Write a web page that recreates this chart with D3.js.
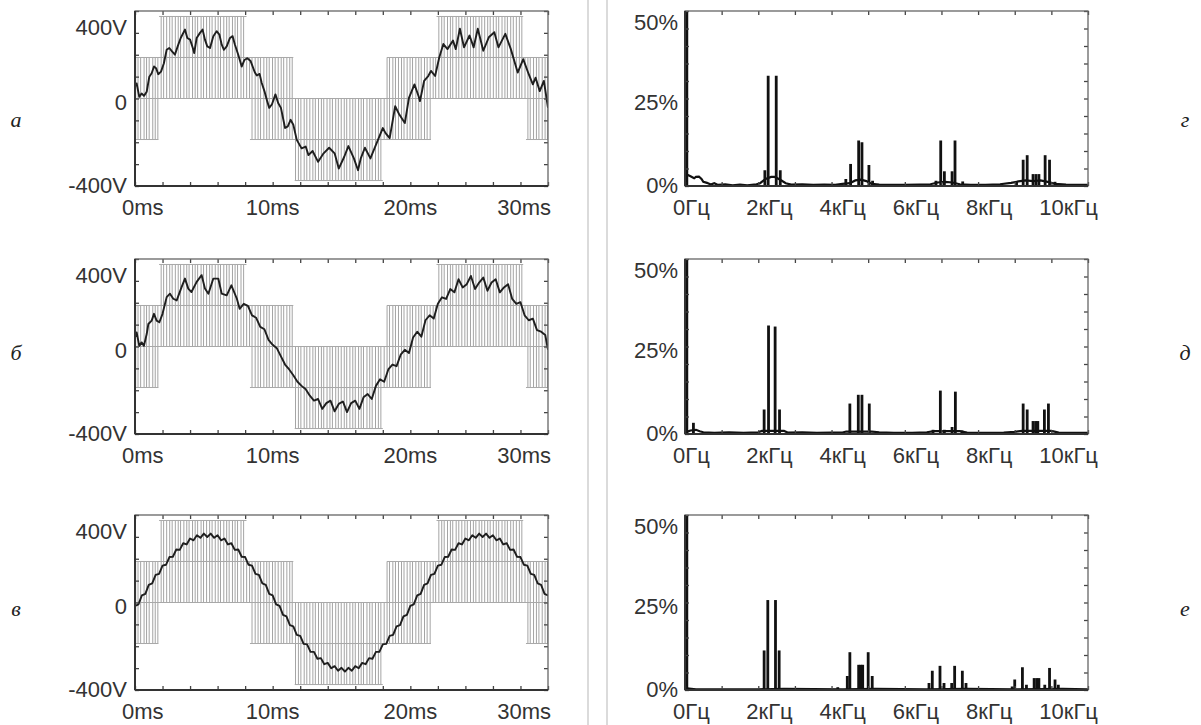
<!DOCTYPE html>
<html>
<head>
<meta charset="utf-8">
<script src="https://cdn.jsdelivr.net/npm/d3@7"></script>
<style>
  body { margin: 0; background: #fff; }
  text { font-family: "Liberation Sans", Arial, sans-serif; fill: #333; }
  .letter { font-family: "Liberation Serif", "Times New Roman", serif; font-style: italic; fill: #222; }
</style>
</head>
<body>
<svg id="chart" width="1201" height="725"></svg>
<script>
// ---- data ----
var timeTicks = [0, 10, 20, 30];
var timeLabels = ["0ms", "10ms", "20ms", "30ms"];
var voltTicks = [400, 0, -400];
var voltLabels = ["400V", "0", "-400V"];
var freqTicks = [0, 2, 4, 6, 8, 10];
var freqLabels = ["0Гц", "2кГц", "4кГц", "6кГц", "8кГц", "10кГц"];
var pctTicks = [50, 25, 0];
var pctLabels = ["50%", "25%", "0%"];
var leftLetters = ["а", "б", "в"];
var rightLetters = ["г", "д", "е"];

// PWM bands: [t start ms, t end ms, low V, high V]
var pwmBands = [
  [0, 1.7, -250, 0],
  [0, 11.5, 0, 250],
  [1.75, 8.1, 250, 500],
  [8.35, 21.5, -250, 0],
  [11.6, 18.0, -500, -250],
  [18.3, 30, 0, 250],
  [21.9, 28.2, 250, 500],
  [28.4, 30, -250, 0]
];
// switching instants, ms
var pwmEdges = [0.05,0.22,0.41,0.66,0.84,1.03,1.29,1.47,1.66,1.9,2.08,2.3,2.52,2.7,2.93,3.14,3.31,3.55,3.76,3.93,
  4.18,4.37,4.55,4.8,4.98,5.2,5.42,5.6,5.83,6.04,6.21,6.45,6.66,6.84,7.08,7.27,7.45,7.7,7.89,8.11,8.32,8.5,8.73,
  8.94,9.12,9.36,9.57,9.75,9.99,10.18,10.4,10.62,10.8,11.03,11.24,11.42,11.66,11.87,12.05,12.29,12.48,12.7,12.92,
  13.1,13.33,13.54,13.71,13.95,14.16,14.34,14.58,14.77,14.98,15.2,15.38,15.61,15.82,16.0,16.24,16.43,16.6,16.85,
  17.05,17.23,17.47,17.68,17.86,18.1,18.31,18.49,18.73,18.92,19.14,19.36,19.54,19.77,19.98,20.16,20.4,20.61,20.79,
  21.03,21.22,21.44,21.66,21.84,22.07,22.28,22.46,22.7,22.91,23.08,23.33,23.52,23.74,23.96,24.14,24.37,24.58,24.76,
  25.0,25.19,25.4,25.62,25.8,26.03,26.24,26.42,26.66,26.87,27.05,27.29,27.48,27.7,27.92,28.1,28.33,28.54,28.71,
  28.95,29.16,29.34,29.58,29.79,29.96];

// filtered output voltage, [ms, V]
var waveA = [[0,72],[0.12,92],[0.31,10],[0.48,31],[0.65,16],[0.85,41],[1.04,133],[1.21,154],[1.38,195],[1.53,185],
  [1.69,148],[1.89,164],[2.1,215],[2.3,297],[2.49,308],[2.69,287],[2.9,267],[3.1,318],[3.32,369],[3.63,420],[3.8,369],
  [4.0,359],[4.2,308],[4.3,277],[4.48,369],[4.72,400],[4.91,420],[5.08,359],[5.25,318],[5.45,308],[5.69,380],[5.93,410],
  [6.13,390],[6.3,328],[6.46,297],[6.66,318],[6.9,369],[7.09,380],[7.26,328],[7.5,267],[7.75,195],[7.95,235],[8.15,245],
  [8.4,228],[8.7,160],[8.85,140],[9.05,150],[9.2,96],[9.4,45],[9.6,-16],[9.75,-57],[9.95,-35],[10.2,25],[10.4,-27],
  [10.6,-57],[10.9,-180],[11.1,-170],[11.3,-130],[11.5,-160],[11.75,-252],[12.1,-304],[12.4,-293],[12.6,-345],
  [12.9,-320],[13.3,-386],[13.7,-334],[14.1,-300],[14.5,-334],[14.8,-427],[15.2,-355],[15.5,-290],[15.9,-365],
  [16.2,-437],[16.4,-365],[16.7,-300],[17.1,-365],[17.5,-283],[18.0,-180],[18.2,-211],[18.5,-242],[18.9,-47],
  [19.2,-98],[19.6,-150],[19.9,4],[20.3,86],[20.6,14],[20.7,-16],[21.0,107],[21.3,137],[21.5,168],[21.8,137],
  [22.1,250],[22.4,332],[22.7,301],[23.1,353],[23.3,301],[23.6,425],[23.9,312],[24.3,384],[24.6,312],[24.9,425],
  [25.3,291],[25.7,373],[26.1,404],[26.4,312],[26.9,394],[27.3,301],[27.8,158],[28.2,240],[28.6,148],[28.9,86],
  [29.1,127],[29.4,45],[29.7,107],[30,-57]];

var waveB = [[0,55],[0.12,86],[0.31,4],[0.48,25],[0.65,4],[0.85,76],[0.97,137],[1.21,158],[1.38,199],[1.57,158],
  [1.77,148],[2.0,199],[2.3,301],[2.54,322],[2.78,291],[3.03,281],[3.39,363],[3.63,414],[3.87,353],[4.1,332],
  [4.48,394],[4.84,435],[5.08,353],[5.33,322],[5.69,414],[6.05,414],[6.3,322],[6.66,312],[7.0,373],[7.4,291],
  [7.6,230],[7.9,260],[8.2,248],[8.5,190],[8.8,175],[9.1,120],[9.4,105],[9.7,40],[10.0,10],[10.3,-10],[10.6,-60],
  [10.9,-110],[11.2,-140],[11.5,-175],[11.8,-215],[12.1,-240],[12.4,-260],[12.7,-300],[13.0,-330],[13.3,-320],
  [13.6,-380],[13.9,-345],[14.2,-330],[14.5,-395],[14.8,-350],[15.1,-335],[15.4,-400],[15.7,-345],[16.0,-330],
  [16.3,-380],[16.6,-310],[16.9,-290],[17.2,-320],[17.5,-240],[17.8,-200],[18.1,-215],[18.4,-140],[18.7,-110],
  [19.0,-120],[19.3,-50],[19.6,-20],[19.9,-40],[20.2,55],[20.5,90],[20.8,60],[21.1,160],[21.4,190],[21.7,170],
  [22.0,260],[22.3,300],[22.6,290],[22.9,350],[23.2,330],[23.5,410],[23.8,360],[24.1,380],[24.4,430],[24.7,350],
  [25.0,390],[25.3,420],[25.6,340],[25.9,390],[26.2,410],[26.5,330],[26.8,360],[27.1,380],[27.4,290],[27.7,260],
  [28.0,270],[28.3,190],[28.6,160],[28.9,170],[29.2,100],[29.5,90],[29.8,70],[30,-20]];

// panel в: one value every 0.25 ms
var waveCStep = 0.25;
var waveC = [-21,-11,43,53,107,116,168,175,225,230,277,279,323,321,361,354,390,379,410,394,420,399,420,394,410,379,
  390,354,361,321,323,279,277,230,225,175,168,116,107,53,43,-11,-21,-75,-85,-138,-146,-197,-203,-252,-255,-301,-301,
  -343,-339,-376,-368,-401,-388,-416,-398,-421,-398,-416,-388,-401,-368,-376,-339,-343,-301,-301,-255,-252,-203,
  -197,-146,-138,-85,-75,-21,-11,43,53,107,116,168,175,225,230,277,279,323,321,361,354,390,379,410,394,420,399,420,
  394,410,379,390,354,361,321,323,279,277,230,225,175,168,116,107,53,43];

// spectra: spikes [kHz, %] and floor line [kHz, %]
var spikesA = [[0.05,100],[2.18,4.5],[2.27,31.5],[2.49,31.5],[2.6,4.5],[4.39,2],[4.52,6.3],[4.74,13],[4.83,12.5],
  [5.02,6],[5.12,1.5],[6.85,1.5],[6.98,13],[7.08,4.2],[7.29,4.2],[7.37,13],[7.58,1.3],[9.05,1.2],[9.23,7.5],
  [9.34,8.8],[9.5,3.4],[9.58,3.4],[9.66,3.4],[9.83,8.8],[9.95,7.5],[10.1,1.2]];
var floorA = [[0.05,3.3],[0.15,2.8],[0.25,2.2],[0.3,2.6],[0.38,2.7],[0.45,2.0],[0.5,1.2],[0.6,0.9],[0.7,0.4],
  [0.8,0.8],[0.9,0.3],[1.1,0.5],[1.3,0.2],[1.5,0.4],[1.7,0.2],[1.95,0.5],[2.05,0.8],[2.2,2.0],[2.35,2.6],[2.45,2.6],
  [2.6,1.8],[2.75,0.8],[2.9,0.4],[3.2,0.5],[3.5,0.3],[3.8,0.4],[4.1,0.3],[4.3,0.6],[4.5,0.8],[4.65,1.6],[4.8,1.8],
  [4.95,1.4],[5.1,0.6],[5.3,0.4],[5.6,0.3],[6.0,0.3],[6.4,0.4],[6.7,0.5],[6.9,1.0],[7.1,1.2],[7.3,1.0],[7.5,0.5],
  [7.8,0.3],[8.2,0.3],[8.6,0.5],[8.9,0.9],[9.1,1.3],[9.3,1.6],[9.5,1.4],[9.7,1.6],[9.9,1.2],[10.1,0.6],[10.4,0.4],
  [10.8,0.3],[11,0.3]];

var spikesB = [[0.05,100],[0.23,3.2],[2.16,7],[2.28,31],[2.46,30.7],[2.58,7],[4.5,8.7],[4.73,11.2],[4.83,11.2],
  [5.03,8.7],[6.77,1.2],[6.97,12.4],[7.08,1.2],[7.29,2],[7.38,12.1],[7.56,1],[9.23,8.7],[9.34,7],[9.5,3.7],
  [9.57,3.7],[9.63,3.7],[9.81,7],[9.92,8.7]];
var floorB = [[0.05,0.6],[0.15,1.0],[0.3,1.2],[0.4,0.8],[0.5,0.5],[0.8,0.3],[1.2,0.5],[1.6,0.3],[2.0,0.5],[2.1,0.9],
  [2.7,0.9],[2.8,0.4],[3.2,0.5],[3.6,0.3],[4.0,0.4],[4.3,0.4],[4.4,0.7],[5.1,0.7],[5.3,0.5],[5.7,0.3],[6.2,0.3],
  [6.6,0.5],[6.8,0.8],[7.5,0.8],[7.7,0.4],[8.2,0.3],[8.7,0.4],[9.0,0.6],[9.2,0.9],[10.0,0.9],[10.2,0.4],[10.6,0.3],
  [11,0.3]];

var spikesC = [[0.05,100],[2.16,11.3],[2.26,25.7],[2.47,25.7],[2.57,11.3],[4.17,0.8],[4.43,4],[4.5,10.8],[4.74,7.2],
  [4.8,7.2],[4.85,7.2],[5.0,10.8],[5.11,4],[5.32,0.5],[6.66,2],[6.75,5.5],[6.96,6.9],[7.07,2],[7.28,2],[7.36,6.9],
  [7.57,5.5],[7.67,2],[8.93,1],[9.0,3],[9.21,6.5],[9.32,1.5],[9.53,3.4],[9.6,3.4],[9.66,3.4],[9.82,1.5],[9.95,6.3],
  [10.1,3],[10.19,1.5],[10.45,0.4]];
var floorC = [[0.05,0.5],[0.3,0.2],[2.0,0.2],[2.7,0.3],[4.3,0.2],[5.2,0.3],[6.6,0.2],[7.7,0.3],[9.0,0.2],[10.3,0.3],[11,0.2]];

// ---- layout ----
var svg = d3.select("#chart");
var leftX0 = 135, leftX1 = 548, rightX0 = 685, rightX1 = 1088;
var rowTops = [11, 259, 515], rowH = 175;
var fontSize = 22;

// divider lines between the two columns
svg.selectAll(".divider").data([588, 607]).enter().append("line")
  .attr("x1", d => d).attr("x2", d => d).attr("y1", 0).attr("y2", 725)
  .attr("stroke", "#cfcfcf").attr("stroke-width", 1.5);

function frame(g, x0, x1, top, bottom) {
  g.append("rect").attr("x", x0).attr("y", top).attr("width", x1 - x0).attr("height", bottom - top)
    .attr("fill", "none").attr("stroke", "#666").attr("stroke-width", 1.3);
  g.append("line").attr("x1", x0).attr("x2", x1).attr("y1", bottom).attr("y2", bottom)
    .attr("stroke", "#333").attr("stroke-width", 2);
  g.append("line").attr("x1", x0).attr("x2", x0).attr("y1", top).attr("y2", bottom)
    .attr("stroke", "#333").attr("stroke-width", 2);
}

function innerTicks(g, x, y, xt, yt, top, bottom, x0, x1) {
  var axes = [
    [d3.axisBottom(x).tickValues(xt), `translate(0,${bottom})`],
    [d3.axisTop(x).tickValues(xt), `translate(0,${top})`],
    [d3.axisLeft(y).tickValues(yt), `translate(${x0},0)`],
    [d3.axisRight(y).tickValues(yt), `translate(${x1},0)`]
  ];
  axes.forEach(function(a) {
    g.append("g").attr("transform", a[1])
      .call(a[0].tickSize(-4).tickFormat(""))
      .call(s => s.select(".domain").remove())
      .call(s => s.selectAll("line").attr("stroke", "#444").attr("stroke-width", 1.3));
  });
}

function drawWave(i, wave) {
  var top = rowTops[i], bottom = top + rowH;
  var x = d3.scaleLinear().domain([0, 30]).range([leftX0, leftX1]);
  var y = d3.scaleLinear().domain([-1600 / 3, 1600 / 3]).range([bottom, top]);
  var g = svg.append("g");

  g.append("clipPath").attr("id", "clipW" + i).append("rect")
    .attr("x", leftX0).attr("y", top).attr("width", leftX1 - leftX0).attr("height", rowH);
  var plot = g.append("g").attr("clip-path", `url(#clipW${i})`);

  // PWM voltage (grey)
  pwmBands.forEach(function(b) {
    var edges = pwmEdges.filter(t => t >= b[0] && t <= b[1]);
    plot.selectAll(null).data(edges).enter().append("line")
      .attr("x1", t => x(t)).attr("x2", t => x(t))
      .attr("y1", y(b[2])).attr("y2", y(b[3]))
      .attr("stroke", "#a4a4a4").attr("stroke-width", 1);
    plot.selectAll(null).data([b[2], b[3]]).enter().append("line")
      .attr("x1", x(b[0])).attr("x2", x(b[1]))
      .attr("y1", v => y(v)).attr("y2", v => y(v))
      .attr("stroke", "#a8a8a8").attr("stroke-width", 1);
  });

  // output voltage (dark)
  var line = d3.line().x(d => x(d[0])).y(d => y(d[1]));
  plot.append("path").datum(wave).attr("d", line)
    .attr("fill", "none").attr("stroke", "#1e1e1e").attr("stroke-width", 1.9)
    .attr("stroke-linejoin", "round");

  innerTicks(g, x, y, d3.range(0, 31, 2), d3.range(-4, 5).map(k => k * 400 / 3), top, bottom, leftX0, leftX1);
  frame(g, leftX0, leftX1, top, bottom);

  // y labels
  var yNudge = [-5, 4, 0];
  g.selectAll(null).data(voltTicks).enter().append("text")
    .attr("x", leftX0 - 8)
    .attr("y", (v, j) => (j === 2 ? bottom - 1 : y(v) + yNudge[j]))
    .attr("text-anchor", "end").attr("dominant-baseline", "central")
    .attr("font-size", fontSize).text((v, j) => voltLabels[j]);

  // x labels, centred on ticks but kept near the frame
  g.selectAll(null).data(timeTicks).enter().append("text")
    .attr("x", t => x(t)).attr("text-anchor", "middle")
    .attr("y", bottom + 21).attr("dominant-baseline", "central")
    .attr("font-size", fontSize).text((t, j) => timeLabels[j])
    .each(function() {
      var bb = this.getBBox();
      if (bb.x < leftX0 - 13) d3.select(this).attr("x", +d3.select(this).attr("x") + (leftX0 - 13 - bb.x));
      if (bb.x + bb.width > leftX1 + 3) d3.select(this).attr("x", +d3.select(this).attr("x") - (bb.x + bb.width - leftX1 - 3));
    });
}

function drawSpec(i, spikes, floor) {
  var top = rowTops[i], bottom = top + rowH;
  var x = d3.scaleLinear().domain([0, 11]).range([rightX0, rightX1]);
  var y = d3.scaleLinear().domain([0, 50]).range([bottom, top]);
  var g = svg.append("g");

  g.append("clipPath").attr("id", "clipS" + i).append("rect")
    .attr("x", rightX0).attr("y", top).attr("width", rightX1 - rightX0).attr("height", rowH);
  var plot = g.append("g").attr("clip-path", `url(#clipS${i})`);

  var line = d3.line().x(d => x(d[0])).y(d => y(d[1]));
  plot.append("path").datum(floor).attr("d", line)
    .attr("fill", "none").attr("stroke", "#111").attr("stroke-width", 2.2);

  plot.selectAll(null).data(spikes).enter().append("rect")
    .attr("x", d => x(d[0]) - 1.4).attr("width", 2.8)
    .attr("y", d => y(d[1])).attr("height", d => y(0) - y(d[1]))
    .attr("fill", "#111");

  innerTicks(g, x, y, d3.range(0, 12, 1), d3.range(0, 51, 5), top, bottom, rightX0, rightX1);
  frame(g, rightX0, rightX1, top, bottom);

  var yNudge = [11, 4, -1];
  g.selectAll(null).data(pctTicks).enter().append("text")
    .attr("x", rightX0 - 7).attr("y", (v, j) => y(v) + yNudge[j])
    .attr("text-anchor", "end").attr("dominant-baseline", "central")
    .attr("font-size", fontSize).text((v, j) => pctLabels[j]);

  g.selectAll(null).data(freqTicks).enter().append("text")
    .attr("x", f => x(f) - 12).attr("text-anchor", "start")
    .attr("y", bottom + 21).attr("dominant-baseline", "central")
    .attr("font-size", fontSize).text((f, j) => freqLabels[j]);
}

var waveCPairs = waveC.map((v, k) => [k * waveCStep, v]);
drawWave(0, waveA);
drawWave(1, waveB);
drawWave(2, waveCPairs);
drawSpec(0, spikesA, floorA);
drawSpec(1, spikesB, floorB);
drawSpec(2, spikesC, floorC);

// panel letters
var letterY = [119, 352, 608];
svg.selectAll(null).data(leftLetters).enter().append("text").attr("class", "letter")
  .attr("x", 16).attr("y", (d, j) => letterY[j]).attr("text-anchor", "middle")
  .attr("dominant-baseline", "central").attr("font-size", 22).text(d => d);
svg.selectAll(null).data(rightLetters).enter().append("text").attr("class", "letter")
  .attr("x", 1185).attr("y", (d, j) => letterY[j]).attr("text-anchor", "middle")
  .attr("dominant-baseline", "central").attr("font-size", 22).text(d => d);
</script>
</body>
</html>
